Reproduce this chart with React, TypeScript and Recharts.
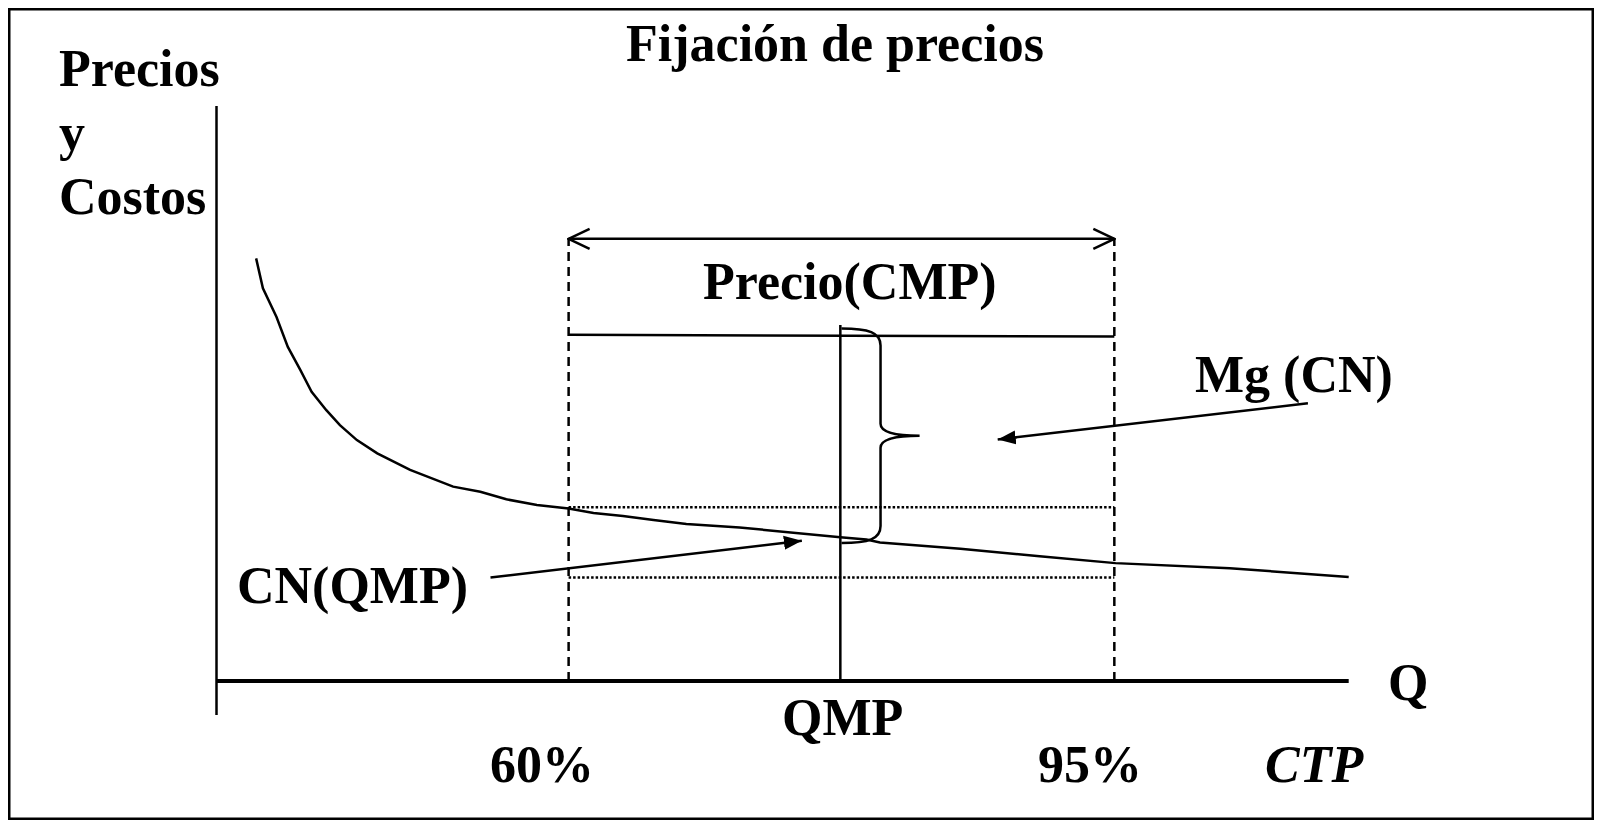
import React from "react";
import { ComposedChart, Line, XAxis, YAxis, ReferenceLine, ReferenceArea } from "recharts";

// Q in abstract units (0 = origin, 100 = end of the axis), prices/costs 0..100
const curveQ = [3.5, 4.1, 5.3, 6.3, 7.4, 8.4, 9.7, 10.9, 12.4, 14.2, 17.1, 20.9, 23.3, 25.6, 28.3, 31.1, 33.3, 35.9, 38.6, 41.5, 46.2, 55.1, 57.4, 58.6, 65.7, 72.7, 79.4, 89.5, 100];
const curveCost = [73.5, 68.3, 63.3, 58.1, 54.1, 50.3, 47.1, 44.5, 41.9, 39.6, 36.7, 33.8, 32.9, 31.6, 30.6, 30.0, 29.2, 28.7, 28.0, 27.3, 26.7, 25.0, 24.6, 24.1, 23.0, 21.7, 20.5, 19.6, 18.1];

const capacityQ = [31.1, 79.3]; // 60% and 95% of capacity
const qmp = 55.1;
const priceCMP = [60.2, 59.9];
const cnLevels = [30.2, 18.0];
const spanLevel = 76.9;
const qmpTop = 61.9;
const yAxisBottom = -5.9;
const mgArrow = [{ q: 96.4, v: 48.3 }, { q: 69.0, v: 42.0 }];
const cnArrow = [{ q: 24.2, v: 18.0 }, { q: 51.7, v: 24.4 }];
const brace = { q1: 55.2, q2: 62.1, v1: 24.0, v2: 61.3 };

const data = curveQ.map((q, i) => ({ q, cost: curveCost[i] }));

const font = "'Liberation Serif', 'Times New Roman', serif";

const labels = [
  { text: "Fijación de precios", x: 827, y: 53, anchor: "middle" },
  { text: "Precios", x: 51, y: 78 },
  { text: "y", x: 51, y: 142 },
  { text: "Costos", x: 51, y: 206 },
  { text: "Precio(CMP)", x: 695, y: 291 },
  { text: "Mg (CN)", x: 1187, y: 384 },
  { text: "CN(QMP)", x: 229, y: 595 },
  { text: "QMP", x: 774, y: 727 },
  { text: "60%", x: 482, y: 774 },
  { text: "95%", x: 1030, y: 774 },
  { text: "CTP", x: 1257, y: 774, italic: true },
  { text: "Q", x: 1380, y: 692 },
];

const seg = (width: number, extra: Record<string, string> = {}) => (p: any) => (
  <line x1={p.x1} y1={p.y1} x2={p.x2} y2={p.y2} stroke="#000" strokeWidth={width} fill="none" {...extra} />
);

const Brace = (p: any) => {
  const { x, y, width: w, height: h } = p;
  const xm = x + w * 0.5;
  const ym = y + h / 2;
  const d = [
    `M${x},${y}`,
    `C${x + w * 0.35},${y} ${xm},${y + 4} ${xm},${y + 17}`,
    `L${xm},${ym - 12}`,
    `C${xm},${ym - 3} ${x + w * 0.7},${ym} ${x + w},${ym}`,
    `C${x + w * 0.7},${ym} ${xm},${ym + 3} ${xm},${ym + 12}`,
    `L${xm},${y + h - 17}`,
    `C${xm},${y + h - 4} ${x + w * 0.35},${y + h} ${x},${y + h}`,
  ].join(" ");
  return <path d={d} fill="none" stroke="#000" strokeWidth={2.5} />;
};

export default function App() {
  return (
    <div style={{ width: 1586, height: 812 }}>
      <ComposedChart width={1586} height={812} data={data} margin={{ top: 98, right: 245.3, bottom: 139, left: 208.5 }}>
        <defs>
          <marker id="open" markerUnits="userSpaceOnUse" markerWidth={24} markerHeight={24} viewBox="0 0 24 24" refX={22} refY={12} orient="auto-start-reverse">
            <path d="M1,2 L22,12 L1,22" fill="none" stroke="#000" strokeWidth={2.5} />
          </marker>
          <marker id="tri" markerUnits="userSpaceOnUse" markerWidth={19} markerHeight={16} viewBox="0 0 19 16" refX={18} refY={8} orient="auto">
            <path d="M0,1 L18,8 L0,15 z" fill="#000" />
          </marker>
        </defs>
        <rect x={1.25} y={1.25} width={1583.5} height={809.5} fill="none" stroke="#000" strokeWidth={2.5} />
        <XAxis type="number" dataKey="q" domain={[0, 100]} hide />
        <YAxis type="number" domain={[0, 100]} hide />

        {/* axes */}
        <ReferenceLine ifOverflow="visible" segment={[{ x: 0, y: yAxisBottom }, { x: 0, y: 100 }]} shape={seg(2.5)} />
        <ReferenceLine ifOverflow="visible" segment={[{ x: 0, y: 0 }, { x: 100, y: 0 }]} shape={seg(4)} />

        {/* capacity limits */}
        {capacityQ.map((q) => (
          <ReferenceLine key={q} ifOverflow="visible" segment={[{ x: q, y: 0 }, { x: q, y: spanLevel }]} shape={seg(2.5, { strokeDasharray: "9 6" })} />
        ))}
        <ReferenceLine ifOverflow="visible" segment={[{ x: capacityQ[0], y: spanLevel }, { x: capacityQ[1], y: spanLevel }]} shape={seg(2.5, { markerStart: "url(#open)", markerEnd: "url(#open)" })} />

        {/* price CMP and CN band */}
        <ReferenceLine ifOverflow="visible" segment={[{ x: capacityQ[0], y: priceCMP[0] }, { x: capacityQ[1], y: priceCMP[1] }]} shape={seg(2.5)} />
        {cnLevels.map((v) => (
          <ReferenceLine key={v} ifOverflow="visible" segment={[{ x: capacityQ[0], y: v }, { x: capacityQ[1], y: v }]} shape={seg(2.5, { strokeDasharray: "2.5 2" })} />
        ))}

        {/* QMP */}
        <ReferenceLine ifOverflow="visible" segment={[{ x: qmp, y: 0 }, { x: qmp, y: qmpTop }]} shape={seg(2.5)} />
        <ReferenceArea ifOverflow="visible" x1={brace.q1} x2={brace.q2} y1={brace.v1} y2={brace.v2} shape={Brace} />

        {/* pointers */}
        <ReferenceLine ifOverflow="visible" segment={[{ x: mgArrow[0].q, y: mgArrow[0].v }, { x: mgArrow[1].q, y: mgArrow[1].v }]} shape={seg(2.5, { markerEnd: "url(#tri)" })} />
        <ReferenceLine ifOverflow="visible" segment={[{ x: cnArrow[0].q, y: cnArrow[0].v }, { x: cnArrow[1].q, y: cnArrow[1].v }]} shape={seg(2.5, { markerEnd: "url(#tri)" })} />

        <Line type="linear" dataKey="cost" stroke="#000" strokeWidth={2.5} dot={false} activeDot={false} isAnimationActive={false} />

        {labels.map((l) => (
          <text
            key={l.text}
            x={l.x}
            y={l.y}
            textAnchor={l.anchor || "start"}
            fontFamily={font}
            fontWeight={700}
            fontStyle={l.italic ? "italic" : "normal"}
            fontSize={52}
            fill="#000"
          >
            {l.text}
          </text>
        ))}
      </ComposedChart>
    </div>
  );
}
